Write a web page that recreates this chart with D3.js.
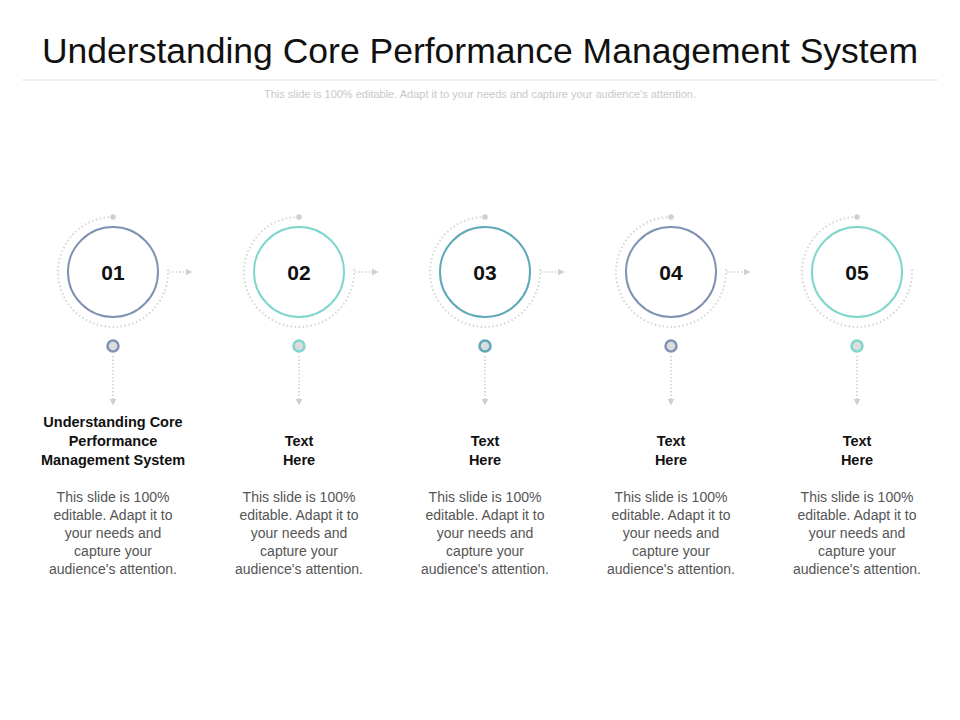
<!DOCTYPE html>
<html><head><meta charset="utf-8">
<script src="https://cdn.jsdelivr.net/npm/d3@7"></script>
<style>body{margin:0;background:#fff;font-family:Arial,"Liberation Sans",sans-serif;}</style>
</head><body><svg id="slide"></svg>
<script>
'use strict';

var W = 960, H = 720;
var numbers  = ['01', '02', '03', '04', '05'];
var headings = [['Understanding Core', 'Performance', 'Management System'], ['Text', 'Here'], ['Text', 'Here'], ['Text', 'Here'], ['Text', 'Here']];
var bodyText = ['This slide is 100%', 'editable. Adapt it to', 'your needs and', 'capture your', "audience's attention."];
var colors   = ['#8193b5', '#7fd6cb', '#5ea9b9', '#8193b5', '#7fd6cb'];

var svg = d3.select('#slide').attr('width', W).attr('height', H);

svg.append('text').attr('x', W / 2).attr('y', 63).attr('text-anchor', 'middle')
  .attr('font-size', 35.5).attr('fill', '#111').text('Understanding Core Performance Management System');
svg.append('line').attr('x1', 22).attr('x2', 938).attr('y1', 80).attr('y2', 80)
  .attr('stroke', '#e3e3e3');
svg.append('text').attr('x', W / 2).attr('y', 98).attr('text-anchor', 'middle')
  .attr('font-size', 11).attr('fill', '#c8c8c8')
  .text("This slide is 100% editable. Adapt it to your needs and capture your audience's attention.");

var x = d3.scalePoint().domain(numbers).range([113, 857]);
var cy = 272;

var defs = svg.append('defs');
defs.append('marker').attr('id', 'arr').attr('viewBox', '0 0 10 10')
  .attr('refX', 5).attr('refY', 5).attr('markerWidth', 7).attr('markerHeight', 7)
  .attr('orient', 'auto').attr('markerUnits', 'userSpaceOnUse')
  .append('path').attr('d', 'M0,0L10,5L0,10Z').attr('fill', '#cfcfcf');

var g = svg.selectAll('g.step').data(numbers).join('g')
  .attr('class', 'step')
  .attr('transform', function(d){ return 'translate(' + x(d) + ',0)'; });

// dotted outer ring
g.append('path').attr('transform', 'translate(0,' + cy + ')')
  .attr('d', function(){
    var p = d3.path();
    p.arc(0, 0, 55, -Math.PI / 2, -0.1, true);
    return p.toString();
  })
  .attr('fill', 'none').attr('stroke', '#d6d6d6').attr('stroke-width', 2)
  .attr('stroke-dasharray', '1.5 2.5');
g.append('circle').attr('cy', cy - 55).attr('r', 2.8).attr('fill', '#d0d0d0');

// main circle
g.append('circle').attr('cy', cy).attr('r', 45).attr('fill', '#fff')
  .attr('stroke', function(d, i){ return colors[i]; }).attr('stroke-width', 2);
g.append('text').attr('y', cy + 8).attr('text-anchor', 'middle')
  .attr('font-size', 21).attr('font-weight', 'bold').attr('fill', '#111')
  .text(function(d){ return d; });

// right arrow (not after the last step)
g.filter(function(d, i){ return i < numbers.length - 1; })
  .append('line').attr('x1', 56).attr('x2', 76).attr('y1', cy).attr('y2', cy)
  .attr('stroke', '#cfcfcf').attr('stroke-width', 1.5).attr('stroke-dasharray', '1.5 2')
  .attr('marker-end', 'url(#arr)');

// small node + down arrow
g.append('circle').attr('cy', 346).attr('r', 5.5).attr('fill', '#dcdcdc')
  .attr('stroke', function(d, i){ return colors[i]; }).attr('stroke-width', 2.5);
g.append('line').attr('y1', 356).attr('y2', 402)
  .attr('stroke', '#cfcfcf').attr('stroke-width', 1.5).attr('stroke-dasharray', '1.5 2')
  .attr('marker-end', 'url(#arr)');

// headings and body
g.each(function(d, i){
  var lines = headings[i];
  var y0 = lines.length === 3 ? 427 : 446;
  var t = d3.select(this).append('text').attr('text-anchor', 'middle')
    .attr('font-size', 14.5).attr('font-weight', 'bold').attr('fill', '#111');
  lines.forEach(function(s, k){
    t.append('tspan').attr('x', 0).attr('y', y0 + k * 19).text(s);
  });
  var b = d3.select(this).append('text').attr('text-anchor', 'middle')
    .attr('font-size', 14).attr('fill', '#555');
  bodyText.forEach(function(s, k){
    b.append('tspan').attr('x', 0).attr('y', 502 + k * 18).text(s);
  });
});
</script>
</body></html>
